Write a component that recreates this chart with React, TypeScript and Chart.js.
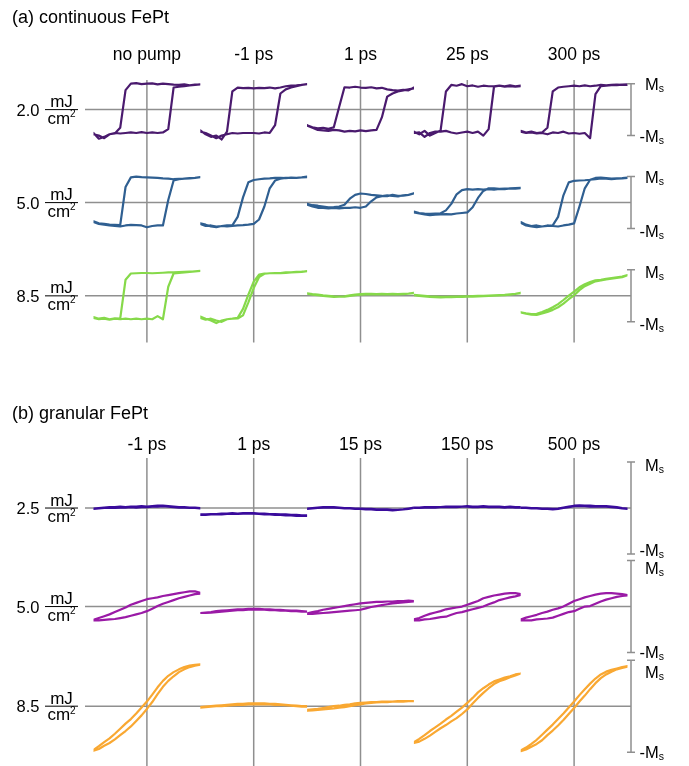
import React, { useEffect, useRef } from 'react';
import { Chart, registerables } from 'chart.js';

Chart.register(...registerables);

// applied field grid (normalised), shared by every loop
const FIELD = [-1, -0.9, -0.8, -0.7, -0.6, -0.5, -0.4, -0.3, -0.2, -0.1, 0, 0.1, 0.2, 0.3, 0.4, 0.5, 0.6, 0.7, 0.8, 0.9, 1];

// ---------- panel (a) continuous FePt ----------
const delaysA = ['no pump', '-1 ps', '1 ps', '25 ps', '300 ps'];
const fluencesA = ['2.0', '5.0', '8.5'];
const colorsA = ['#4a1a6e', '#2f5f91', '#86d94a'];

const a20_nopump_dn = [-0.9, -1.12, -1.05, -0.95, -0.92, -0.7, 0.75, 1.0, 1.02, 0.98, 1.0, 1.01, 0.97, 1.0, 0.98, 0.96, 0.95, 0.97, 0.93, 0.96, 0.97];
const a20_nopump_up = [-0.95, -1.0, -1.1, -0.95, -0.9, -0.92, -0.9, -0.88, -0.9, -0.87, -0.9, -0.88, -0.9, -0.88, -0.75, 0.85, 0.88, 0.9, 0.93, 0.95, 0.97];
const a20_m1_dn = [-0.8, -0.95, -1.05, -1.0, -1.15, -0.85, 0.7, 0.85, 0.83, 0.84, 0.82, 0.84, 0.83, 0.85, 0.82, 0.85, 0.9, 0.92, 0.93, 0.95, 0.98];
const a20_m1_up = [-0.85, -0.9, -1.0, -1.1, -1.0, -0.95, -0.9, -0.92, -0.9, -0.9, -0.9, -0.92, -0.88, -0.9, -0.6, 0.62, 0.78, 0.85, 0.9, 0.95, 0.98];
const a20_1_dn = [-0.6, -0.68, -0.72, -0.7, -0.74, -0.68, 0.1, 0.86, 0.85, 0.88, 0.85, 0.84, 0.86, 0.82, 0.84, 0.78, 0.75, 0.73, 0.76, 0.74, 0.85];
const a20_1_up = [-0.62, -0.7, -0.78, -0.8, -0.82, -0.78, -0.8, -0.85, -0.82, -0.84, -0.8, -0.83, -0.8, -0.78, -0.3, 0.5, 0.62, 0.7, 0.74, 0.78, 0.82];
const a20_25_dn = [-0.85, -0.95, -0.82, -1.0, -0.9, -0.8, 0.7, 0.95, 0.92, 0.98, 0.9, 0.93, 0.88, 0.92, 0.9, 0.9, 0.92, 0.88, 0.9, 0.88, 0.9];
const a20_25_up = [-0.9, -0.88, -1.05, -0.9, -0.85, -0.85, -0.82, -0.88, -0.92, -0.88, -0.85, -0.9, -0.85, -1.0, -0.75, 0.88, 0.92, 0.9, 0.93, 0.9, 0.92];
const a20_300_dn = [-0.82, -0.88, -0.85, -0.9, -0.88, -0.7, 0.7, 0.85, 0.88, 0.9, 0.92, 0.9, 0.93, 0.9, 0.92, 0.95, 0.93, 0.95, 0.94, 0.96, 0.95];
const a20_300_up = [-0.85, -0.9, -0.88, -0.92, -0.9, -0.95, -0.88, -0.9, -0.85, -0.92, -0.9, -0.93, -0.9, -1.1, 0.6, 0.9, 0.92, 0.94, 0.96, 0.95, 0.97];

const a50_nopump_dn = [-0.72, -0.8, -0.82, -0.85, -0.86, -0.87, 0.6, 0.97, 1.0, 0.98, 0.97, 0.96, 0.95, 0.93, 0.92, 0.9, 0.91, 0.92, 0.94, 0.95, 0.98];
const a50_nopump_up = [-0.75, -0.82, -0.85, -0.88, -0.9, -0.92, -0.88, -0.86, -0.87, -0.88, -0.95, -0.9, -0.88, -0.88, 0.1, 0.85, 0.9, 0.92, 0.93, 0.95, 0.98];
const a50_m1_dn = [-0.8, -0.85, -0.92, -0.95, -0.9, -0.88, -0.88, -0.55, 0.2, 0.78, 0.87, 0.9, 0.92, 0.93, 0.95, 0.95, 0.94, 0.96, 0.95, 0.97, 1.0];
const a50_m1_up = [-0.82, -0.9, -0.88, -0.92, -0.9, -0.92, -0.9, -0.88, -0.87, -0.85, -0.82, -0.65, -0.15, 0.55, 0.85, 0.92, 0.95, 0.96, 0.95, 0.97, 0.98];
const a50_1_dn = [-0.05, -0.1, -0.12, -0.15, -0.18, -0.17, -0.15, -0.08, 0.15, 0.3, 0.35, 0.33, 0.3, 0.28, 0.26, 0.25, 0.3, 0.26, 0.27, 0.3, 0.35];
const a50_1_up = [-0.08, -0.15, -0.2, -0.2, -0.22, -0.2, -0.22, -0.2, -0.2, -0.18, -0.2, -0.15, 0.05, 0.2, 0.25, 0.28, 0.26, 0.24, 0.28, 0.3, 0.36];
const a50_25_dn = [-0.35, -0.4, -0.42, -0.43, -0.42, -0.41, -0.3, -0.05, 0.32, 0.48, 0.52, 0.5, 0.52, 0.5, 0.52, 0.5, 0.53, 0.52, 0.55, 0.54, 0.56];
const a50_25_up = [-0.38, -0.42, -0.45, -0.48, -0.46, -0.45, -0.44, -0.45, -0.42, -0.4, -0.38, -0.18, 0.18, 0.45, 0.55, 0.55, 0.53, 0.54, 0.55, 0.56, 0.57];
const a50_300_dn = [-0.75, -0.85, -0.9, -0.88, -0.92, -0.9, -0.88, -0.55, 0.28, 0.78, 0.84, 0.85, 0.86, 0.88, 0.9, 0.93, 0.92, 0.9, 0.92, 0.93, 0.95];
const a50_300_up = [-0.78, -0.88, -0.92, -0.95, -0.92, -0.88, -0.9, -0.92, -0.88, -0.85, -0.8, -0.15, 0.55, 0.88, 0.95, 0.96, 0.94, 0.92, 0.93, 0.94, 0.96];

const a85_nopump_dn = [-0.82, -0.88, -0.85, -0.9, -0.87, -0.88, 0.62, 0.86, 0.87, 0.88, 0.88, 0.87, 0.88, 0.89, 0.9, 0.9, 0.91, 0.92, 0.93, 0.94, 0.96];
const a85_nopump_up = [-0.85, -0.9, -0.88, -0.92, -0.88, -0.9, -0.88, -0.9, -0.88, -0.9, -0.88, -0.9, -0.78, -0.9, 0.35, 0.86, 0.88, 0.9, 0.92, 0.94, 0.96];
const a85_m1_dn = [-0.8, -0.88, -0.95, -1.05, -0.95, -0.9, -0.88, -0.85, -0.5, 0.05, 0.55, 0.82, 0.86, 0.87, 0.88, 0.87, 0.88, 0.9, 0.91, 0.92, 0.95];
const a85_m1_up = [-0.85, -0.92, -0.88, -0.95, -1.0, -0.9, -0.88, -0.87, -0.75, -0.25, 0.3, 0.72, 0.85, 0.87, 0.88, 0.88, 0.9, 0.9, 0.92, 0.93, 0.95];
const a85_1_dn = [0.1, 0.07, 0.05, 0.02, 0.0, -0.02, -0.03, -0.02, 0.02, 0.05, 0.07, 0.08, 0.08, 0.07, 0.08, 0.07, 0.08, 0.07, 0.08, 0.09, 0.12];
const a85_1_up = [0.08, 0.05, 0.03, 0.0, -0.02, -0.04, -0.03, -0.03, 0.0, 0.03, 0.05, 0.06, 0.07, 0.06, 0.07, 0.06, 0.07, 0.06, 0.07, 0.08, 0.1];
const a85_25_dn = [0.04, 0.02, 0.0, -0.02, -0.03, -0.04, -0.04, -0.03, -0.03, -0.02, -0.02, -0.01, 0.0, 0.0, 0.01, 0.02, 0.03, 0.04, 0.06, 0.08, 0.12];
const a85_25_up = [0.03, 0.0, -0.02, -0.04, -0.05, -0.06, -0.05, -0.05, -0.04, -0.04, -0.03, -0.03, -0.02, -0.01, 0.0, 0.01, 0.02, 0.03, 0.05, 0.07, 0.1];
const a85_300_dn = [-0.63, -0.67, -0.7, -0.69, -0.62, -0.54, -0.44, -0.32, -0.16, 0.01, 0.16, 0.33, 0.45, 0.53, 0.6, 0.62, 0.65, 0.68, 0.71, 0.74, 0.8];
const a85_300_up = [-0.64, -0.69, -0.72, -0.73, -0.68, -0.62, -0.54, -0.44, -0.3, -0.13, 0.02, 0.22, 0.37, 0.47, 0.56, 0.59, 0.63, 0.66, 0.69, 0.72, 0.79];

// ---------- panel (b) granular FePt ----------
const delaysB = ['-1 ps', '1 ps', '15 ps', '150 ps', '500 ps'];
const fluencesB = ['2.5', '5.0', '8.5'];
const colorsB = ['#3a0b9c', '#9a1aa6', '#f9a832'];

const b25_m1_dn = [-0.01, 0.0, 0.01, 0.02, 0.02, 0.03, 0.02, 0.03, 0.03, 0.04, 0.03, 0.04, 0.05, 0.05, 0.04, 0.03, 0.02, 0.02, 0.01, 0.01, 0.0];
const b25_m1_up = [-0.02, -0.01, 0.0, 0.01, 0.0, 0.01, 0.01, 0.02, 0.01, 0.02, 0.02, 0.03, 0.03, 0.04, 0.03, 0.02, 0.01, 0.01, 0.0, 0.0, -0.01];
const b25_1_dn = [-0.14, -0.14, -0.13, -0.13, -0.12, -0.12, -0.11, -0.12, -0.11, -0.11, -0.11, -0.12, -0.12, -0.13, -0.13, -0.14, -0.14, -0.15, -0.15, -0.16, -0.16];
const b25_1_up = [-0.15, -0.15, -0.14, -0.14, -0.14, -0.13, -0.13, -0.13, -0.12, -0.12, -0.12, -0.13, -0.14, -0.14, -0.15, -0.15, -0.16, -0.16, -0.17, -0.17, -0.17];
const b25_15_dn = [-0.01, 0.0, 0.01, 0.02, 0.02, 0.02, 0.01, 0.0, 0.0, -0.01, -0.01, -0.02, -0.02, -0.03, -0.03, -0.03, -0.04, -0.04, -0.03, -0.01, 0.01];
const b25_15_up = [-0.02, -0.01, 0.0, 0.01, 0.01, 0.01, 0.0, -0.01, -0.01, -0.02, -0.02, -0.03, -0.03, -0.04, -0.04, -0.04, -0.05, -0.04, -0.03, -0.02, 0.0];
const b25_150_dn = [0.01, 0.01, 0.02, 0.02, 0.02, 0.02, 0.03, 0.03, 0.03, 0.03, 0.04, 0.03, 0.03, 0.04, 0.03, 0.03, 0.03, 0.02, 0.03, 0.02, 0.02];
const b25_150_up = [0.0, 0.0, 0.01, 0.01, 0.01, 0.02, 0.02, 0.02, 0.02, 0.03, 0.03, 0.02, 0.02, 0.03, 0.02, 0.02, 0.02, 0.01, 0.02, 0.01, 0.01];
const b25_500_dn = [0.01, 0.01, 0.0, 0.0, -0.01, -0.01, -0.02, -0.01, 0.01, 0.03, 0.05, 0.06, 0.05, 0.05, 0.04, 0.04, 0.04, 0.03, 0.02, 0.0, -0.01];
const b25_500_up = [0.0, 0.0, -0.01, -0.01, -0.02, -0.02, -0.03, -0.02, 0.0, 0.02, 0.04, 0.04, 0.04, 0.03, 0.03, 0.03, 0.03, 0.02, 0.01, -0.01, -0.02];

const b50_m1_dn = [-0.29, -0.25, -0.21, -0.17, -0.12, -0.07, -0.02, 0.04, 0.08, 0.12, 0.16, 0.18, 0.2, 0.23, 0.25, 0.27, 0.29, 0.31, 0.33, 0.33, 0.3];
const b50_m1_up = [-0.3, -0.3, -0.29, -0.28, -0.27, -0.25, -0.23, -0.2, -0.17, -0.14, -0.1, -0.05, 0.01, 0.06, 0.1, 0.14, 0.18, 0.21, 0.24, 0.27, 0.28];
const b50_1_dn = [-0.14, -0.13, -0.12, -0.1, -0.09, -0.08, -0.07, -0.06, -0.06, -0.05, -0.05, -0.05, -0.06, -0.06, -0.07, -0.07, -0.08, -0.09, -0.09, -0.1, -0.11];
const b50_1_up = [-0.14, -0.14, -0.13, -0.12, -0.11, -0.1, -0.09, -0.08, -0.08, -0.07, -0.07, -0.07, -0.07, -0.08, -0.08, -0.09, -0.09, -0.1, -0.1, -0.11, -0.11];
const b50_15_dn = [-0.15, -0.12, -0.1, -0.07, -0.05, -0.03, -0.01, 0.01, 0.03, 0.05, 0.07, 0.08, 0.09, 0.1, 0.1, 0.11, 0.11, 0.12, 0.12, 0.13, 0.12];
const b50_15_up = [-0.16, -0.16, -0.15, -0.14, -0.13, -0.12, -0.11, -0.1, -0.09, -0.08, -0.07, -0.04, -0.01, 0.01, 0.03, 0.05, 0.07, 0.08, 0.09, 0.1, 0.11];
const b50_150_dn = [-0.28, -0.25, -0.2, -0.16, -0.13, -0.1, -0.06, -0.04, -0.02, 0.0, 0.04, 0.08, 0.12, 0.18, 0.21, 0.24, 0.26, 0.28, 0.29, 0.29, 0.27];
const b50_150_up = [-0.3, -0.3, -0.28, -0.27, -0.25, -0.23, -0.22, -0.18, -0.14, -0.12, -0.09, -0.06, -0.03, 0.0, 0.05, 0.09, 0.14, 0.17, 0.2, 0.22, 0.25];
const b50_500_dn = [-0.28, -0.24, -0.21, -0.18, -0.14, -0.11, -0.07, -0.04, 0.0, 0.06, 0.12, 0.16, 0.2, 0.23, 0.26, 0.28, 0.29, 0.29, 0.28, 0.27, 0.25];
const b50_500_up = [-0.3, -0.3, -0.3, -0.28, -0.27, -0.26, -0.24, -0.2, -0.16, -0.12, -0.1, -0.05, 0.0, 0.01, 0.06, 0.11, 0.15, 0.18, 0.21, 0.23, 0.24];

const b85_m1_dn = [-0.95, -0.87, -0.78, -0.7, -0.6, -0.49, -0.38, -0.28, -0.16, -0.03, 0.1, 0.25, 0.41, 0.55, 0.66, 0.74, 0.8, 0.85, 0.88, 0.9, 0.91];
const b85_m1_up = [-0.97, -0.93, -0.86, -0.8, -0.72, -0.63, -0.54, -0.44, -0.32, -0.2, -0.06, 0.09, 0.26, 0.42, 0.55, 0.65, 0.74, 0.8, 0.85, 0.88, 0.9];
const b85_1_dn = [-0.02, -0.01, 0.0, 0.01, 0.02, 0.03, 0.04, 0.05, 0.05, 0.06, 0.06, 0.06, 0.06, 0.05, 0.05, 0.04, 0.03, 0.02, 0.01, 0.0, 0.0];
const b85_1_up = [-0.03, -0.02, -0.01, 0.0, 0.0, 0.01, 0.02, 0.03, 0.03, 0.04, 0.04, 0.04, 0.04, 0.04, 0.03, 0.03, 0.02, 0.01, 0.0, -0.01, -0.01];
const b85_15_dn = [-0.08, -0.07, -0.06, -0.04, -0.02, 0.0, 0.01, 0.03, 0.04, 0.06, 0.07, 0.08, 0.09, 0.09, 0.1, 0.1, 0.1, 0.11, 0.11, 0.11, 0.11];
const b85_15_up = [-0.1, -0.09, -0.08, -0.07, -0.06, -0.05, -0.03, -0.02, 0.0, 0.02, 0.04, 0.06, 0.07, 0.08, 0.09, 0.09, 0.1, 0.1, 0.1, 0.11, 0.11];
const b85_150_dn = [-0.78, -0.71, -0.63, -0.54, -0.46, -0.38, -0.29, -0.21, -0.12, -0.03, 0.07, 0.18, 0.3, 0.39, 0.47, 0.54, 0.58, 0.62, 0.65, 0.69, 0.71];
const b85_150_up = [-0.8, -0.77, -0.71, -0.64, -0.56, -0.48, -0.41, -0.33, -0.26, -0.17, -0.07, 0.06, 0.18, 0.29, 0.39, 0.48, 0.54, 0.58, 0.63, 0.67, 0.71];
const b85_500_dn = [-0.96, -0.9, -0.82, -0.73, -0.62, -0.51, -0.4, -0.28, -0.16, -0.03, 0.1, 0.24, 0.37, 0.49, 0.6, 0.69, 0.75, 0.79, 0.82, 0.85, 0.87];
const b85_500_up = [-0.98, -0.94, -0.88, -0.82, -0.74, -0.63, -0.53, -0.42, -0.3, -0.17, -0.04, 0.1, 0.23, 0.37, 0.5, 0.61, 0.69, 0.75, 0.8, 0.83, 0.86];

const loopsA = [
  [[a20_nopump_dn, a20_nopump_up], [a20_m1_dn, a20_m1_up], [a20_1_dn, a20_1_up], [a20_25_dn, a20_25_up], [a20_300_dn, a20_300_up]],
  [[a50_nopump_dn, a50_nopump_up], [a50_m1_dn, a50_m1_up], [a50_1_dn, a50_1_up], [a50_25_dn, a50_25_up], [a50_300_dn, a50_300_up]],
  [[a85_nopump_dn, a85_nopump_up], [a85_m1_dn, a85_m1_up], [a85_1_dn, a85_1_up], [a85_25_dn, a85_25_up], [a85_300_dn, a85_300_up]],
];
const loopsB = [
  [[b25_m1_dn, b25_m1_up], [b25_1_dn, b25_1_up], [b25_15_dn, b25_15_up], [b25_150_dn, b25_150_up], [b25_500_dn, b25_500_up]],
  [[b50_m1_dn, b50_m1_up], [b50_1_dn, b50_1_up], [b50_15_dn, b50_15_up], [b50_150_dn, b50_150_up], [b50_500_dn, b50_500_up]],
  [[b85_m1_dn, b85_m1_up], [b85_1_dn, b85_1_up], [b85_15_dn, b85_15_up], [b85_150_dn, b85_150_up], [b85_500_dn, b85_500_up]],
];

const FONT = '"Liberation Sans", Arial, Helvetica, sans-serif';
const GRID = '#8f8f8f';

type Spec = {
  title: string;
  delays: string[];
  fluences: string[];
  colors: string[];
  loops: number[][][][];
  rowRanges: number[][];
  msShift: number[][];
  padTop: number;
  padBottom: number;
  titleY: number;
  headY: number;
};

function toLoop(dn: number[], up: number[]) {
  const pts: { x: number; y: number }[] = [];
  for (let i = FIELD.length - 1; i >= 0; i--) pts.push({ x: FIELD[i], y: dn[i] });
  for (let i = 0; i < FIELD.length; i++) pts.push({ x: FIELD[i], y: up[i] });
  return pts;
}

function makeOverlay(spec: Spec) {
  return {
    id: 'panelOverlay',
    beforeDatasetsDraw(chart: any) {
      const ctx = chart.ctx;
      const a = chart.chartArea;
      ctx.save();
      ctx.strokeStyle = GRID;
      ctx.lineWidth = 1.5;
      spec.delays.forEach((_, c) => {
        const px = chart.scales['x' + c].getPixelForValue(0);
        ctx.beginPath();
        ctx.moveTo(px, a.top);
        ctx.lineTo(px, a.bottom);
        ctx.stroke();
      });
      spec.fluences.forEach((_, r) => {
        const py = chart.scales['y' + r].getPixelForValue(0);
        ctx.beginPath();
        ctx.moveTo(a.left - 8.5, py);
        ctx.lineTo(a.right + 3.5, py);
        ctx.stroke();
      });
      ctx.restore();
    },
    afterDraw(chart: any) {
      const ctx = chart.ctx;
      const a = chart.chartArea;
      ctx.save();
      ctx.fillStyle = '#000';
      ctx.textBaseline = 'alphabetic';
      // panel title
      ctx.font = '18px ' + FONT;
      ctx.textAlign = 'left';
      ctx.fillText(spec.title, 12, spec.titleY);
      // column heads
      ctx.font = '17.5px ' + FONT;
      ctx.textAlign = 'center';
      spec.delays.forEach((d, c) => {
        const px = chart.scales['x' + c].getPixelForValue(0);
        ctx.fillText(d, px, spec.headY);
      });
      // row labels and Ms brackets
      spec.fluences.forEach((f, r) => {
        const s = chart.scales['y' + r];
        const py = s.getPixelForValue(0);
        ctx.fillStyle = '#000';
        ctx.font = '16.5px ' + FONT;
        ctx.textAlign = 'right';
        ctx.fillText(f, 39.5, py + 6);
        ctx.fillRect(45, py - 0.5, 33, 1);
        ctx.font = '17px ' + FONT;
        ctx.textAlign = 'center';
        ctx.fillText('mJ', 61.5, py - 2.5);
        ctx.textAlign = 'left';
        const wcm = ctx.measureText('cm').width;
        ctx.font = '10px ' + FONT;
        const w2 = ctx.measureText('2').width;
        const x0 = 61.5 - (wcm + w2) / 2;
        ctx.font = '17px ' + FONT;
        ctx.fillText('cm', x0, py + 14);
        ctx.font = '10px ' + FONT;
        ctx.fillText('2', x0 + wcm, py + 7.5);

        // bracket
        const yTop = s.getPixelForValue(1);
        const yBot = s.getPixelForValue(-1);
        const bx = a.right + 3.5;
        ctx.strokeStyle = GRID;
        ctx.lineWidth = 1.5;
        ctx.beginPath();
        ctx.moveTo(bx, yTop);
        ctx.lineTo(bx, yBot);
        ctx.moveTo(bx - 4, yTop);
        ctx.lineTo(bx + 4, yTop);
        ctx.moveTo(bx - 4, yBot);
        ctx.lineTo(bx + 4, yBot);
        ctx.stroke();

        const mx = 645;
        const lt = yTop + 6 + spec.msShift[r][0];
        const lb = yBot + 6 + spec.msShift[r][1];
        ctx.font = '16.5px ' + FONT;
        ctx.textAlign = 'left';
        const wM = ctx.measureText('M').width;
        ctx.fillText('M', mx, lt);
        ctx.fillText('M', mx, lb);
        ctx.textAlign = 'right';
        ctx.fillText('-', mx, lb);
        ctx.textAlign = 'left';
        ctx.font = '10.5px ' + FONT;
        ctx.fillText('s', mx + wM, lt + 2);
        ctx.fillText('s', mx + wM, lb + 2);
      });
      ctx.restore();
    },
  };
}

function Panel({ spec, height }: { spec: Spec; height: number }) {
  const ref = useRef<HTMLCanvasElement | null>(null);
  useEffect(() => {
    if (!ref.current) return;
    const scales: any = {};
    spec.delays.forEach((_, c) => {
      scales['x' + c] = {
        type: 'linear', axis: 'x', position: 'bottom', stack: 'cols', stackWeight: 1,
        min: -1, max: 1, display: false,
      };
    });
    spec.rowRanges.forEach(([lo, hi], r) => {
      scales['y' + r] = {
        type: 'linear', axis: 'y', position: 'right', stack: 'rows', stackWeight: hi - lo,
        min: lo, max: hi, display: false,
      };
    });
    const datasets: any[] = [];
    spec.loops.forEach((row, r) => {
      row.forEach((pair, c) => {
        datasets.push({
          data: toLoop(pair[0], pair[1]),
          xAxisID: 'x' + c,
          yAxisID: 'y' + r,
          borderColor: spec.colors[r],
          backgroundColor: spec.colors[r],
          borderWidth: 2.2,
          pointRadius: 0,
          showLine: true,
          fill: false,
          tension: 0,
          borderJoinStyle: 'round',
          borderCapStyle: 'round',
        });
      });
    });
    const chart = new Chart(ref.current, {
      type: 'scatter',
      data: { datasets },
      options: {
        responsive: false,
        animation: false,
        events: [],
        layout: { padding: { left: 93.5, right: 61.5, top: spec.padTop, bottom: spec.padBottom } },
        plugins: { legend: { display: false }, tooltip: { enabled: false }, title: { display: false } },
        scales,
      },
      plugins: [makeOverlay(spec)],
    } as any);
    return () => chart.destroy();
  }, [spec]);
  return <canvas ref={ref} width={689} height={height} style={{ display: 'block', width: 689, height }} />;
}

const specA: Spec = {
  title: '(a) continuous FePt',
  delays: delaysA,
  fluences: fluencesA,
  colors: colorsA,
  loops: loopsA,
  rowRanges: [[-1.79, 1.14], [-1.79, 1.79], [-1.8, 1.8]],
  msShift: [[0, 0], [0, 2], [2, 2]],
  padTop: 80,
  padBottom: 40.4,
  titleY: 22.7,
  headY: 59.5,
};

const specB: Spec = {
  title: '(b) granular FePt',
  delays: delaysB,
  fluences: fluencesB,
  colors: colorsB,
  loops: loopsB,
  rowRanges: [[-1.076, 1.087], [-1.065, 1.065], [-1.3, 1.1]],
  msShift: [[2.5, -4.5], [7, -1], [12, 0]],
  padTop: 75,
  padBottom: 0,
  titleY: 36.3,
  headY: 67,
};

export default function App() {
  return (
    <div style={{ position: 'absolute', left: 0, top: 0, width: 689, height: 766, background: '#fff' }}>
      <Panel spec={specA} height={383} />
      <Panel spec={specB} height={383} />
    </div>
  );
}
